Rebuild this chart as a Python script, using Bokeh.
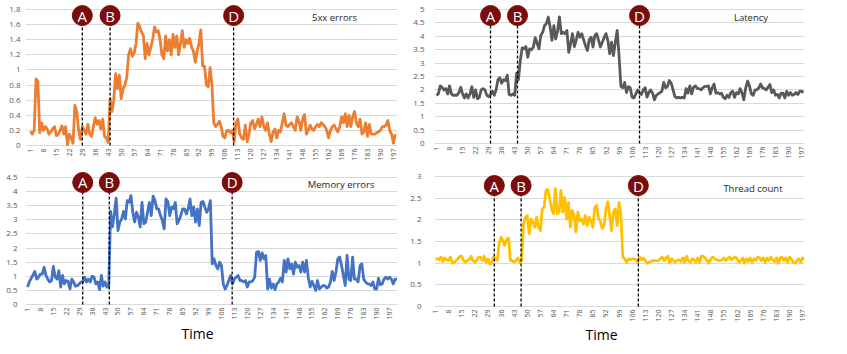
import math
from bokeh.plotting import figure
from bokeh.layouts import row, column
from bokeh.models import FixedTicker, Title, Label
from bokeh.core.properties import value
from bokeh.embed import file_html
from bokeh.resources import INLINE

# ---------------- data ----------------
X_TICKS = list(range(1, 198, 7))
EVENT_LABELS = ["A", "B", "D"]

ERR_5XX = [
    0.19, 0.15, 0.2, 0.88, 0.85, 0.17, 0.3, 0.2, 0.25, 0.22,
    0.15, 0.18, 0.22, 0.25, 0.13, 0.15, 0.2, 0.26, 0.15, 0.25,
    0.01, 0.15, 0.1, 0.03, 0.53, 0.45, 0.2, 0.08, 0.25, 0.2,
    0.15, 0.28, 0.15, 0.12, 0.25, 0.37, 0.28, 0.33, 0.22, 0.35,
    0.12, 0.1, 0.04,
    0.62, 0.45, 0.6, 0.95, 0.75, 0.93, 0.62, 0.75, 0.8, 0.9,
    1.2, 1.28, 1.18, 1.22, 1.35, 1.62,
    1.57, 1.5, 1.45, 1.15, 1.35, 1.2, 1.3, 1.4, 1.57, 1.5,
    1.52, 1.4, 1.2, 1.15, 1.45, 1.25, 1.4, 1.2, 1.47, 1.3,
    1.45, 1.2, 1.35, 1.52, 1.3, 1.4, 1.35, 1.42, 1.3, 1.25,
    1.1, 1.25, 1.35, 1.53,
    1.05, 1.05, 0.8, 0.78, 1.03, 0.8, 0.3, 0.25, 0.28, 0.32,
    0.25, 0.12, 0.1, 0.2, 0.2, 0.17, 0.2, 0.05,
    0.3, 0.35, 0.15, 0.1, 0.08, 0.27, 0.05, 0.15, 0.3, 0.33,
    0.22, 0.28, 0.35, 0.25, 0.38, 0.25, 0.2, 0.3, 0.15, 0.05,
    0.18, 0.22, 0.1, 0.2, 0.18, 0.3, 0.42, 0.27, 0.25, 0.28,
    0.3, 0.25, 0.2, 0.38, 0.32, 0.2, 0.35, 0.41, 0.15, 0.2,
    0.27, 0.22, 0.2, 0.25, 0.28, 0.25, 0.3, 0.28, 0.25, 0.2,
    0.1, 0.2, 0.25, 0.27, 0.22, 0.18, 0.25, 0.38, 0.3, 0.42,
    0.25, 0.4, 0.25, 0.38, 0.45, 0.3, 0.25, 0.35, 0.15, 0.18,
    0.3, 0.12, 0.28, 0.15, 0.15, 0.15, 0.17, 0.18, 0.2, 0.25,
    0.25, 0.27, 0.33, 0.2, 0.15, 0.03, 0.15,
]

LATENCY = [
    1.8, 1.85, 2.15, 2.1, 2.0, 2.05, 1.85, 2.15, 1.85, 1.8,
    1.8, 1.8, 1.9, 2.1, 1.85, 1.7, 1.85, 1.7, 1.85, 2.12,
    1.72, 2.0, 1.67, 1.72, 2.0, 2.05, 2.0, 1.8, 1.75, 1.83,
    1.95, 1.8, 2.0, 2.38, 2.45, 2.25, 2.38, 2.35, 2.55, 1.83,
    1.8, 1.85, 1.8, 2.62, 2.38, 3.1, 3.57, 3.53, 3.62, 3.22,
    3.53, 3.5, 3.6, 3.95, 3.75, 3.53, 4.03, 4.15, 4.4, 4.47,
    4.72, 4.35, 3.85, 4.4, 3.9, 4.2, 4.72, 4.1, 4.15, 4.1,
    4.22, 3.4, 3.72, 4.1, 3.62, 3.85, 4.15, 3.97, 4.1, 3.87,
    3.65, 3.47, 3.87, 3.97, 3.6, 4.03, 4.1, 3.85, 3.6, 3.78,
    3.95, 4.1, 3.85, 3.35, 3.78, 3.28, 3.78, 4.22, 3.28, 2.13,
    2.08, 2.28, 1.9, 2.12, 2.08, 1.73, 1.7, 1.85, 2.0, 1.88,
    1.83, 2.0, 2.08, 1.73, 1.9, 2.0, 1.88, 1.63, 1.8, 1.85,
    1.9, 1.95, 2.28, 2.08, 2.13, 2.35, 2.25, 2.0, 1.75, 1.7,
    1.72, 1.7, 1.72, 1.7, 2.05, 1.88, 2.15, 1.85, 2.1, 2.15,
    2.05, 2.05, 2.0, 2.08, 2.13, 2.13, 2.15, 1.85, 2.08, 2.22,
    1.88, 1.9, 1.85, 1.88, 1.72, 1.67, 1.8, 1.72, 1.9, 1.95,
    1.72, 1.9, 1.85, 2.05, 1.88, 1.63, 2.08, 2.33, 2.15, 1.85,
    1.8, 2.0, 2.0, 2.08, 2.22, 2.08, 2.05, 2.0, 2.1, 2.2,
    1.9, 2.0, 1.8, 1.83, 1.7, 1.88, 1.88, 1.7, 1.95, 1.8,
    1.9, 1.8, 1.83, 1.9, 1.83, 1.95, 1.95, 1.9,
]

MEMORY = [
    0.62, 0.8, 0.93, 1.05, 1.17, 0.9, 0.97, 1.08, 1.08, 1.32,
    1.03, 0.9, 0.8, 0.85, 1.35, 0.97, 0.9, 1.2, 0.62, 1.03,
    0.73, 0.85, 0.82, 0.55, 0.9, 0.8, 0.65, 0.67, 0.73, 0.8,
    0.8, 0.97, 0.8, 0.9, 0.8, 1.0, 0.97, 0.73, 0.8, 0.53,
    1.03, 0.65, 0.8, 0.62, 0.62,
    3.3, 2.75, 3.2, 3.77, 2.62, 2.92, 3.03, 3.3, 3.03, 3.68,
    3.62, 3.86, 3.27, 2.92, 3.27, 3.1, 2.75, 3.62, 2.86, 2.92,
    3.27, 3.62, 3.15, 3.84, 3.68, 3.39, 3.39, 3.15, 2.98, 2.68,
    3.74, 3.65, 3.15, 3.45, 3.39, 3.62, 2.86, 2.98, 3.15, 3.39,
    3.39, 3.21, 3.39, 3.74, 3.15, 3.45, 2.92, 3.39, 2.8, 3.62,
    3.65, 3.45, 3.27, 3.39, 3.68, 1.44, 1.62, 1.38, 1.26, 1.5,
    1.38, 0.73, 0.55, 0.67, 0.85, 1.03, 0.73, 0.9, 0.97, 1.03,
    0.85, 0.85, 0.8, 0.85, 0.62, 0.8, 0.8, 0.85, 0.97, 1.85,
    1.88, 1.56, 1.83, 1.62, 1.74, 0.55, 0.9, 0.58, 0.73, 0.53,
    0.73, 0.8, 0.93, 0.8, 1.56, 1.15, 1.62, 1.26, 1.44, 1.08,
    1.5, 1.32, 1.38, 1.15, 1.5, 1.15, 1.56, 0.97, 0.62, 0.82,
    0.67, 0.5, 0.85, 0.55, 0.62, 0.67, 0.67, 0.58, 0.62, 0.8,
    1.17, 0.85, 1.15, 1.62, 1.68, 1.38, 1.03, 0.67, 1.74, 0.9,
    0.85, 1.68, 0.9, 0.9, 0.8, 1.38, 1.44, 0.9, 0.8, 0.73,
    0.73, 0.67, 0.8, 0.55, 0.55, 0.93, 0.7, 0.73, 0.9, 0.97,
    0.9, 0.97, 0.9, 0.73, 0.9, 0.9,
]

THREADS = [
    1.1, 1.1, 1.08, 1.14, 1.04, 1.12, 1.08, 1.06, 1.14, 1.0,
    1.02, 1.06, 1.1, 1.16, 1.16, 1.06, 1.02, 1.06, 1.08, 1.16,
    1.06, 1.02, 1.06, 1.14, 1.14, 1.06, 1.16, 1.02, 1.1, 0.98,
    1.0, 1.14, 1.1, 1.06, 1.45, 1.6, 1.52, 1.41, 1.55, 1.58,
    1.06, 1.06, 1.02, 1.06, 1.12, 1.02, 1.06, 1.9, 2.06, 2.1,
    1.68, 2.02, 1.95, 1.83, 2.06, 1.83, 1.75, 2.25, 2.29, 2.68,
    2.7, 2.48, 2.25, 2.14, 2.72, 2.14, 2.18, 2.68, 2.18, 2.52,
    2.02, 2.4, 1.83, 2.22, 2.1, 1.72, 2.18, 1.98, 2.02, 1.9,
    2.1, 1.87, 2.06, 1.98, 1.83, 2.29, 2.33, 2.02, 1.98, 1.8,
    1.87, 2.25, 2.42, 2.1, 1.75, 2.18, 2.25, 1.87, 2.4, 2.1,
    1.14, 1.1, 1.02, 1.1, 1.08, 1.1, 1.1, 1.08, 1.02, 1.14,
    1.08, 1.12, 1.06, 1.0, 1.02, 1.04, 1.06, 1.06, 1.06, 1.06,
    1.1, 1.14, 1.06, 1.12, 1.16, 1.0, 1.1, 1.06, 1.02, 1.06,
    1.08, 1.04, 1.12, 1.02, 1.16, 1.06, 1.02, 1.1, 1.08, 1.02,
    1.12, 1.02, 1.16, 1.16, 1.12, 1.06, 1.0, 1.1, 1.14, 1.1,
    1.08, 1.06, 1.06, 1.08, 1.12, 1.06, 1.1, 1.14, 1.08, 1.12,
    1.14, 1.1, 1.02, 1.06, 1.12, 1.0, 1.1, 1.04, 1.12, 1.02,
    1.1, 1.06, 1.14, 1.12, 1.06, 1.12, 1.02, 1.12, 1.06, 1.14,
    1.08, 1.04, 1.12, 1.0, 1.12, 1.14, 1.06, 1.12, 1.02, 1.14,
    1.1, 1.02, 1.0, 1.06, 1.1, 1.02, 1.12, 1.1,
]

Y_TICKS_5XX = [0, 0.2, 0.4, 0.6, 0.8, 1, 1.2, 1.4, 1.6, 1.8]
Y_LABELS_5XX = ["0", "0.2", "0.4", "0.6", "0.8", "1", "1.2", "1.4", "1.6", "1.8"]
Y_TICKS_LAT = [0, 0.5, 1, 1.5, 2, 2.5, 3, 3.5, 4, 4.5, 5]
Y_LABELS_LAT = ["0", "0.5", "1", "1.5", "2", "2.5", "3", "3.5", "4", "4.5", "5"]
Y_TICKS_MEM = [0, 0.5, 1, 1.5, 2, 2.5, 3, 3.5, 4, 4.5]
Y_LABELS_MEM = ["0", "0.5", "1", "1.5", "2", "2.5", "3", "3.5", "4", "4.5"]
Y_TICKS_THR = [0, 0.5, 1, 1.5, 2, 2.5, 3]
Y_LABELS_THR = ["0", "0.5", "1", "1.5", "2", "2.5", "3"]

EVENTS_5XX = [29, 44, 110.7]
EVENTS_LAT = [30, 44.5, 110]
EVENTS_MEM = [30.9, 45.3, 111.8]
EVENTS_THR = [32.4, 46.7, 109.3]

NAMES = ["5xx errors", "Latency", "Memory errors", "Thread count"]
X_TITLE = "Time"

# ---------------- style ----------------
FONT = "Open Sans"
MAROON = "#7B0C0C"
GRID = "#D9D9D9"
TICK_COLOR = "#595959"


def panel(vals, color, yticks, ylabels, events, name, c):
    p = figure(width=c["w"], height=c["h"], x_range=c["xr"], y_range=c["yr"],
               output_backend="svg", toolbar_location=None, tools="",
               min_border_left=c["bl"], min_border_right=c["br"],
               min_border_top=c["bt"], min_border_bottom=c["bb"])
    p.outline_line_color = None
    p.background_fill_color = "white"
    p.border_fill_color = "white"
    p.xgrid.visible = False
    p.ygrid.grid_line_color = GRID
    p.ygrid.grid_line_width = 1.2

    for ax in (p.xaxis[0], p.yaxis[0]):
        ax.axis_line_color = None
        ax.major_tick_line_color = None
        ax.minor_tick_line_color = None
        ax.major_tick_out = 0
        ax.major_tick_in = 0
        ax.minor_tick_out = 0
        ax.minor_tick_in = 0
        ax.major_label_text_color = TICK_COLOR
        ax.major_label_text_font = FONT

    p.yaxis.ticker = FixedTicker(ticks=yticks)
    p.yaxis.major_label_overrides = dict(zip(yticks, ylabels))
    p.yaxis.major_label_text_font_size = "8px"
    p.yaxis.major_label_standoff = c["ys"]

    p.xaxis.ticker = FixedTicker(ticks=X_TICKS)
    p.xaxis.major_label_orientation = math.pi / 2
    p.xaxis.major_label_text_font_size = "7px"
    p.xaxis.major_label_standoff = 2

    xs = list(range(1, len(vals) + 1))
    p.line(xs, vals, line_color=color, line_width=2.8, line_join="round")

    my = c["my"]
    p.segment(x0=events, y0=[0] * len(events), x1=events, y1=[my] * len(events),
              line_color="black", line_width=1.3, line_dash="3 2")
    p.scatter(x=events, y=[my] * len(events), marker="circle", size=20,
              fill_color=MAROON, line_color=MAROON)
    p.text(x=events, y=[my] * len(events), text=EVENT_LABELS,
           text_color="white", text_font=value(FONT), text_font_size="15px",
           text_align="center", text_baseline="middle")

    p.add_layout(Label(x=c["tx"], y=c["ty"], text=name, text_font=FONT,
                       text_font_size="9.5px", text_color="#262626",
                       text_baseline="middle", text_align="left"))
    if c.get("time") is not None:
        p.add_layout(Title(text=X_TITLE, align="left", offset=c["time"],
                           text_font=FONT, text_font_size="14px",
                           text_font_style="normal", text_color="black",
                           standoff=c["tstand"]), "below")
    return p


CFG_TL = dict(w=405, h=168, bl=22, br=8, bt=0, bb=22,
              xr=(-1.68, 199.2), yr=(-0.0132, 1.919), ys=5,
              my=1.72, tx=153, ty=1.694)
CFG_BL = dict(w=405, h=186, bl=25, br=3, bt=0, bb=49,
              xr=(-0.068, 201.3), yr=(-0.035, 4.819), ys=8,
              my=4.323, tx=152.7, ty=4.253, time=156, tstand=-2)
CFG_TR = dict(w=442, h=166, bl=26, br=43, bt=0, bb=22,
              xr=(-0.065, 198.55), yr=(-0.037, 5.336), ys=10,
              my=4.776, tx=160.7, ty=4.701)
CFG_BR = dict(w=442, h=188, bl=29, br=39, bt=0, bb=47,
              xr=(0.472, 198.0), yr=(-0.023, 3.231), ys=13,
              my=2.792, tx=154.7, ty=2.723, time=151, tstand=-4)

p1 = panel(ERR_5XX, "#ED7D31", Y_TICKS_5XX, Y_LABELS_5XX, EVENTS_5XX, NAMES[0], CFG_TL)
p2 = panel(LATENCY, "#595959", Y_TICKS_LAT, Y_LABELS_LAT, EVENTS_LAT, NAMES[1], CFG_TR)
p3 = panel(MEMORY, "#4472C4", Y_TICKS_MEM, Y_LABELS_MEM, EVENTS_MEM, NAMES[2], CFG_BL)
p4 = panel(THREADS, "#FFC000", Y_TICKS_THR, Y_LABELS_THR, EVENTS_THR, NAMES[3], CFG_BR)

layout = row(column(p1, p3), column(p2, p4),
             styles={"position": "absolute", "left": "0px", "top": "0px"})

open("out.html", "w").write(file_html(layout, INLINE))
